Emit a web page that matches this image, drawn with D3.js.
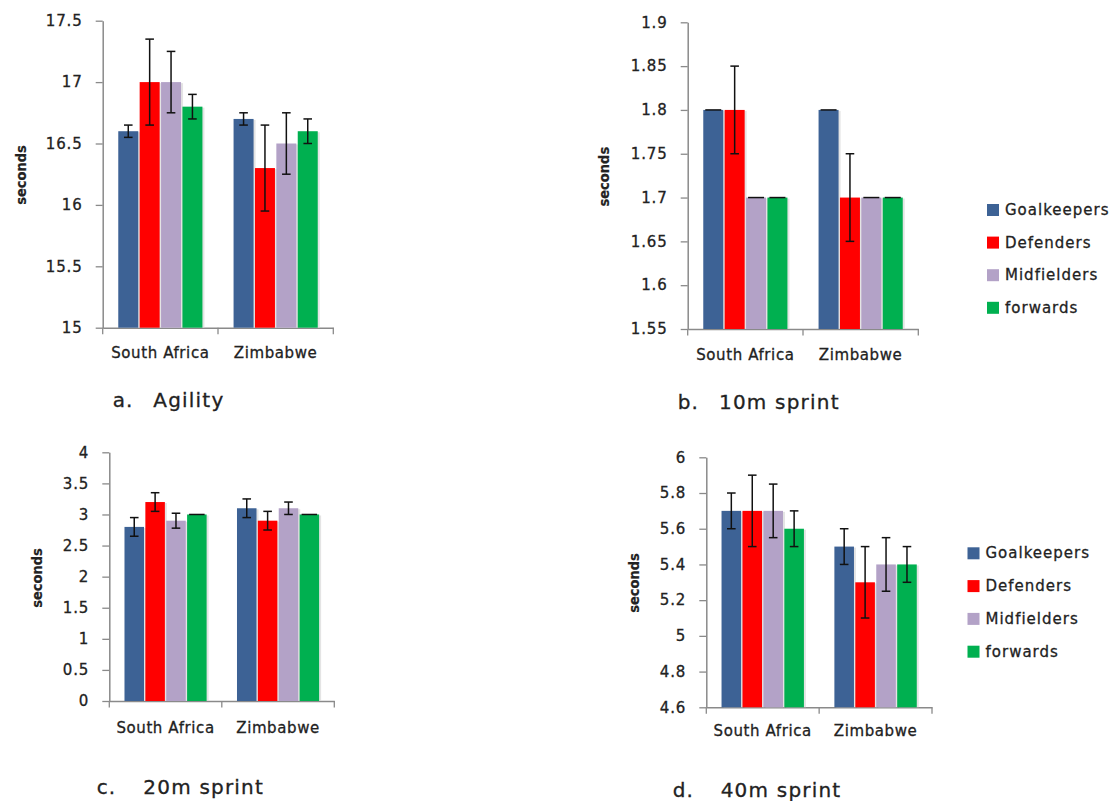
<!DOCTYPE html>
<html>
<head>
<meta charset="utf-8">
<script src="https://cdn.jsdelivr.net/npm/d3@7"></script>
<style>
  html, body { margin: 0; padding: 0; background: #fff; }
  svg { display: block; }
  text { font-family: "DejaVu Sans", Verdana, sans-serif; fill: #222; stroke: #222; stroke-width: 0.3px; }
</style>
</head>
<body>
<svg id="chart" width="1118" height="801"></svg>
<script>
// ---------------- DATA ----------------
const categories = ["South Africa", "Zimbabwe"];
const positions = ["Goalkeepers", "Defenders", "Midfielders", "forwards"];
const colors = ["#3D6295", "#FF0000", "#B3A2C7", "#00B050"];

// a. Agility (seconds) — [South Africa, Zimbabwe] per position
const agilitySA = [16.6, 17.0, 17.0, 16.8];
const agilityZW = [16.7, 16.3, 16.5, 16.6];
const agilityErrSA = [0.05, 0.35, 0.25, 0.1];
const agilityErrZW = [0.05, 0.35, 0.25, 0.1];
const agilityTicks = [15, 15.5, 16, 16.5, 17, 17.5];
const agilityTickLabels = ["15", "15.5", "16", "16.5", "17", "17.5"];

// b. 10m sprint
const sprint10SA = [1.8, 1.8, 1.7, 1.7];
const sprint10ZW = [1.8, 1.7, 1.7, 1.7];
const sprint10ErrSA = [0, 0.05, 0, 0];
const sprint10ErrZW = [0, 0.05, 0, 0];
const sprint10Ticks = [1.55, 1.6, 1.65, 1.7, 1.75, 1.8, 1.85, 1.9];
const sprint10TickLabels = ["1.55", "1.6", "1.65", "1.7", "1.75", "1.8", "1.85", "1.9"];

// c. 20m sprint
const sprint20SA = [2.8, 3.2, 2.9, 3.0];
const sprint20ZW = [3.1, 2.9, 3.1, 3.0];
const sprint20ErrSA = [0.15, 0.15, 0.12, 0];
const sprint20ErrZW = [0.15, 0.15, 0.1, 0];
const sprint20Ticks = [0, 0.5, 1, 1.5, 2, 2.5, 3, 3.5, 4];
const sprint20TickLabels = ["0", "0.5", "1", "1.5", "2", "2.5", "3", "3.5", "4"];

// d. 40m sprint
const sprint40SA = [5.7, 5.7, 5.7, 5.6];
const sprint40ZW = [5.5, 5.3, 5.4, 5.4];
const sprint40ErrSA = [0.1, 0.2, 0.15, 0.1];
const sprint40ErrZW = [0.1, 0.2, 0.15, 0.1];
const sprint40Ticks = [4.6, 4.8, 5, 5.2, 5.4, 5.6, 5.8, 6];
const sprint40TickLabels = ["4.6", "4.8", "5", "5.2", "5.4", "5.6", "5.8", "6"];

const captions = [["a.", "Agility"], ["b.", "10m sprint"], ["c.", "20m sprint"], ["d.", "40m sprint"]];
const yTitle = "seconds";

// ---------------- LAYOUT ----------------
const panels = [
  { means: [agilitySA, agilityZW], errs: [agilityErrSA, agilityErrZW], ticks: agilityTicks, labels: agilityTickLabels,
    x0: 102.7, x1: 333.3, yTop: 20.7, yBot: 327.7, titleX: 21, titleY: 175,
    capX: 112.7, capX2: 153.3, capY: 400, legend: null, catDy: 29 },
  { means: [sprint10SA, sprint10ZW], errs: [sprint10ErrSA, sprint10ErrZW], ticks: sprint10Ticks, labels: sprint10TickLabels,
    x0: 687.7, x1: 918.3, yTop: 22.3, yBot: 329, titleX: 604, titleY: 176.7,
    capX: 677.8, capX2: 719, capY: 402, legend: { x: 987, y: 210, dy: 32.6 }, catDy: 29 },
  { means: [sprint20SA, sprint20ZW], errs: [sprint20ErrSA, sprint20ErrZW], ticks: sprint20Ticks, labels: sprint20TickLabels,
    x0: 109.3, x1: 334.3, yTop: 452.3, yBot: 701, titleX: 37, titleY: 578,
    capX: 96.7, capX2: 143.3, capY: 787, legend: null, catDy: 30 },
  { means: [sprint40SA, sprint40ZW], errs: [sprint40ErrSA, sprint40ErrZW], ticks: sprint40Ticks, labels: sprint40TickLabels,
    x0: 706.3, x1: 932, yTop: 457.3, yBot: 707.3, titleX: 633.5, titleY: 583,
    capX: 672.7, capX2: 720.7, capY: 790, legend: { x: 967.5, y: 553.3, dy: 32.8 }, catDy: 27 }
];

const axisColor = "#8a8a8a";
const svg = d3.select("#chart");

panels.forEach((p, pi) => {
  const g = svg.append("g");
  const y = d3.scaleLinear()
    .domain([p.ticks[0], p.ticks[p.ticks.length - 1]])
    .range([p.yBot, p.yTop]);
  const xOuter = d3.scaleBand().domain(categories).range([p.x0, p.x1])
    .paddingInner(0.27).paddingOuter(0.135);
  const xInner = d3.scaleBand().domain(positions).range([0, xOuter.bandwidth()])
    .paddingInner(0.065).paddingOuter(0);

  // y axis
  const yAxis = d3.axisLeft(y)
    .tickValues(p.ticks)
    .tickFormat((d, i) => p.labels[i])
    .tickSizeInner(7).tickSizeOuter(0).tickPadding(13);
  const ya = g.append("g").attr("transform", `translate(${p.x0},0)`).call(yAxis);
  ya.select(".domain").attr("stroke", axisColor).attr("stroke-width", 1.5);
  ya.selectAll(".tick line").attr("stroke", axisColor).attr("stroke-width", 1.3);
  ya.selectAll(".tick text")
    .attr("fill", "#222")
    .style("font-family", '"DejaVu Sans", Verdana, sans-serif')
    .style("font-size", "15px")
    .style("letter-spacing", "0.9px");

  // x axis baseline with category labels
  const xAxis = d3.axisBottom(xOuter).tickSize(0).tickPadding(p.catDy - 9).tickSizeOuter(0);
  const xa = g.append("g").attr("transform", `translate(0,${p.yBot})`).call(xAxis);
  xa.select(".domain").attr("stroke", axisColor).attr("stroke-width", 1.5);
  xa.selectAll(".tick text")
    .attr("fill", "#222")
    .style("font-family", '"DejaVu Sans", Verdana, sans-serif')
    .style("font-size", "15px")
    .style("letter-spacing", "0.6px");
  // boundary tick marks between categories
  const bounds = [p.x0, (p.x0 + p.x1) / 2, p.x1];
  g.selectAll(".btick").data(bounds).enter().append("line")
    .attr("x1", d => d).attr("x2", d => d)
    .attr("y1", p.yBot).attr("y2", p.yBot + 6.5)
    .attr("stroke", axisColor).attr("stroke-width", 1.3);

  // bars
  const rows = [];
  categories.forEach((c, ci) => {
    positions.forEach((s, si) => {
      rows.push({ c, s, si, v: p.means[ci][si], e: p.errs[ci][si] });
    });
  });
  const bx = d => xOuter(d.c) + xInner(d.s);
  // soft shadow
  g.selectAll(".shadow").data(rows).enter().append("rect")
    .attr("x", d => bx(d) + 2).attr("y", d => y(d.v) + 1)
    .attr("width", xInner.bandwidth()).attr("height", d => p.yBot - y(d.v) - 1)
    .attr("fill", "#d9d9d9").attr("opacity", 0.7);
  g.selectAll(".bar").data(rows).enter().append("rect")
    .attr("x", d => bx(d)).attr("y", d => y(d.v))
    .attr("width", xInner.bandwidth()).attr("height", d => p.yBot - y(d.v))
    .attr("fill", d => colors[d.si]);

  // error bars
  const capW = 4.3;
  const eg = g.selectAll(".err").data(rows).enter().append("g");
  eg.filter(d => d.e > 0).append("line")
    .attr("x1", d => bx(d) + xInner.bandwidth() / 2).attr("x2", d => bx(d) + xInner.bandwidth() / 2)
    .attr("y1", d => y(d.v + d.e)).attr("y2", d => y(d.v - d.e))
    .attr("stroke", "#111").attr("stroke-width", 1.5);
  eg.append("line")
    .attr("x1", d => bx(d) + xInner.bandwidth() / 2 - (d.e > 0 ? capW : xInner.bandwidth() / 2 - 2))
    .attr("x2", d => bx(d) + xInner.bandwidth() / 2 + (d.e > 0 ? capW : xInner.bandwidth() / 2 - 2))
    .attr("y1", d => y(d.v + d.e)).attr("y2", d => y(d.v + d.e))
    .attr("stroke", "#111").attr("stroke-width", 1.5);
  eg.filter(d => d.e > 0).append("line")
    .attr("x1", d => bx(d) + xInner.bandwidth() / 2 - capW).attr("x2", d => bx(d) + xInner.bandwidth() / 2 + capW)
    .attr("y1", d => y(d.v - d.e)).attr("y2", d => y(d.v - d.e))
    .attr("stroke", "#111").attr("stroke-width", 1.5);

  // y title
  g.append("text")
    .attr("transform", `translate(${p.titleX},${p.titleY}) rotate(-90)`)
    .attr("text-anchor", "middle").attr("dominant-baseline", "central")
    .style("font-family", '"DejaVu Sans Condensed", "DejaVu Sans", sans-serif')
    .style("font-stretch", "condensed")
    .style("font-weight", "bold").style("font-size", "14.5px")
    .style("stroke-width", "0.2px")
    .text(yTitle);

  // caption
  g.append("text").attr("x", p.capX).attr("y", p.capY).attr("dominant-baseline", "central")
    .style("font-size", "20px").style("letter-spacing", "1px").text(captions[pi][0]);
  g.append("text").attr("x", p.capX2).attr("y", p.capY).attr("dominant-baseline", "central")
    .style("font-size", "20px").style("letter-spacing", "1.2px").text(captions[pi][1]);

  // legend
  if (p.legend) {
    const lg = g.append("g");
    positions.forEach((s, si) => {
      const cy = p.legend.y + si * p.legend.dy;
      lg.append("rect").attr("x", p.legend.x).attr("y", cy - 6)
        .attr("width", 12).attr("height", 12).attr("fill", colors[si]);
      lg.append("text").attr("x", p.legend.x + 18).attr("y", cy)
        .attr("dominant-baseline", "central")
        .style("font-size", "15px").style("letter-spacing", "1px")
        .text(s);
    });
  }
});
</script>
</body>
</html>
